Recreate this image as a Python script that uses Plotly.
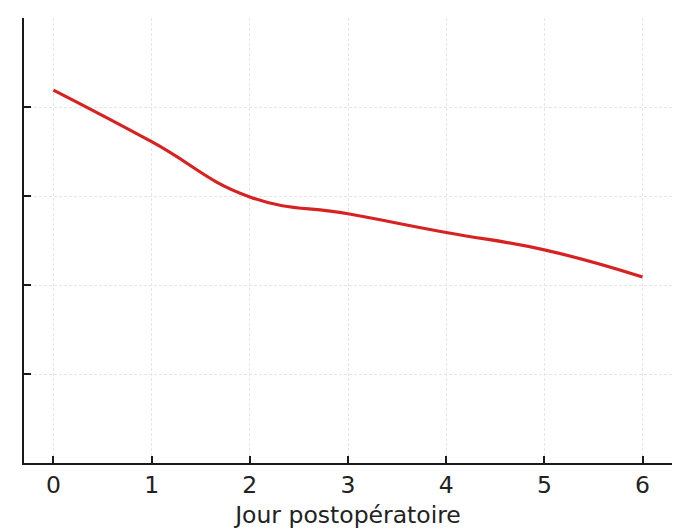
import plotly.graph_objects as go

# Postoperative day and the measured score on each day
jours = [0, 1, 2, 3, 4, 5, 6]
score = [8.38, 7.22, 5.98, 5.60, 5.18, 4.79, 4.18]

x_ticks = [0, 1, 2, 3, 4, 5, 6]
y_ticks = [0, 2, 4, 6, 8, 10]

fig = go.Figure()
fig.add_trace(go.Scatter(
    x=jours, y=score, mode="lines",
    line=dict(color="#d62322", width=3.2, shape="spline", smoothing=1.3),
    showlegend=False, hoverinfo="x+y",
))

axis_common = dict(
    showline=True, linecolor="#1a1a1a", linewidth=1.6, mirror=False,
    ticks="inside", ticklen=7, tickwidth=1.6, tickcolor="#1a1a1a",
    showgrid=True, gridcolor="#e6e6e6", gridwidth=1, griddash="3px,2px",
    zeroline=False,
    tickfont=dict(family="DejaVu Sans", size=23.5, color="#222222"),
)

fig.update_xaxes(
    range=[-0.3, 6.3], tickvals=x_ticks,
    title=dict(text="Jour postopératoire",
               font=dict(family="DejaVu Sans", size=23.5, color="#222222"),
               standoff=9),
    **axis_common,
)
fig.update_yaxes(
    range=[0, 10], tickvals=y_ticks, showticklabels=False,
    **axis_common,
)

fig.update_layout(
    width=686, height=532,
    margin=dict(l=24, r=14, t=18, b=69, autoexpand=False),
    plot_bgcolor="white", paper_bgcolor="white",
)

fig.write_html("out.html")
